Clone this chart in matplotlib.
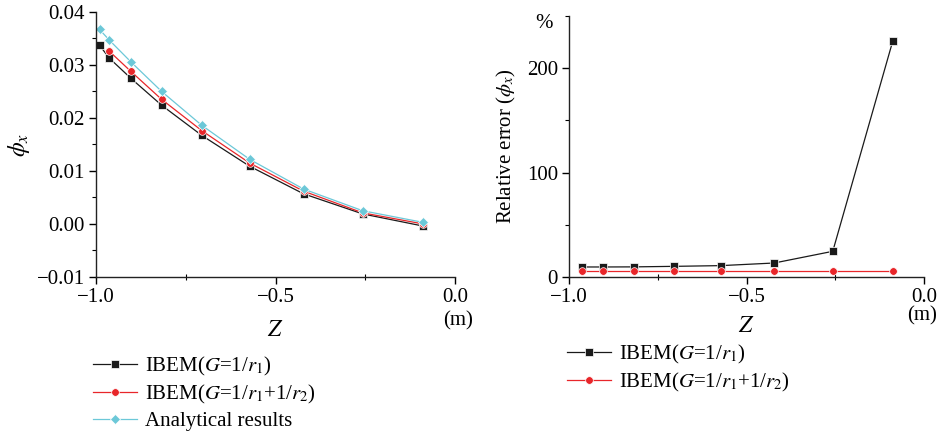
import numpy as np
import matplotlib.pyplot as plt
from matplotlib.ticker import MultipleLocator, FuncFormatter

plt.rcParams['font.family'] = ['Liberation Serif', 'DejaVu Serif']
plt.rcParams['mathtext.fontset'] = 'stix'
plt.rcParams['font.size'] = 15

# depth points Z (m)
z_all = [-0.99, -0.963, -0.903, -0.817, -0.705, -0.572, -0.422, -0.257, -0.088]
z_ibem = z_all[1:]

# phi_x values
phi_g1 = [0.0337, 0.0313, 0.0275, 0.0224, 0.0167, 0.0109, 0.0057, 0.0019, -0.0004]
phi_g2 = [0.0326, 0.0288, 0.0235, 0.0176, 0.0115, 0.0062, 0.0021, 0.0000]
phi_ana = [0.0367, 0.0347, 0.0306, 0.0250, 0.0186, 0.0122, 0.0066, 0.0025, 0.0003]

# relative error (%)
err_g1 = [9.6, 9.6, 9.7, 10.2, 10.9, 13.4, 24.6, 226.0]
err_g2 = [5.4, 5.4, 5.4, 5.4, 5.4, 5.4, 5.4, 5.4]

lab_g1 = r'IBEM($G$=1/$r_1$)'
lab_g2 = r'IBEM($G$=1/$r_1$+1/$r_2$)'
lab_ana = 'Analytical results'

c_black = '#1a1a1a'
c_red = '#e8262a'
c_cyan = '#6cc8d8'

W, H = 943, 441
fig = plt.figure(figsize=(W / 100, H / 100), dpi=100)


def px_axes(x0, x1, y0, y1):
    return fig.add_axes([x0 / W, 1 - y1 / H, (x1 - x0) / W, (y1 - y0) / H])


def style(ax):
    for s in ['top', 'right']:
        ax.spines[s].set_visible(False)
    for s in ['left', 'bottom']:
        ax.spines[s].set_linewidth(1.0)
        ax.spines[s].set_color('#222222')
    ax.tick_params(which='major', direction='out', length=5, width=1.0, pad=3)
    ax.tick_params(which='minor', direction='out', length=3, width=0.8)
    ax.tick_params(axis='x', which='minor', direction='inout', length=5)
    ax.xaxis.set_major_locator(MultipleLocator(0.5))
    ax.xaxis.set_minor_locator(MultipleLocator(0.25))
    ax.xaxis.set_major_formatter(FuncFormatter(lambda v, p: f'{v:.1f}'.replace('-', '\u2212')))
    ax.set_xlim(-1.0, 0.0)


mk = dict(ms=5.5, mec='white', mew=0.5)

# left panel
ax1 = px_axes(96, 455, 12, 277)
style(ax1)
ax1.plot(z_all, phi_g1, color=c_black, lw=0.9, marker='s', label=lab_g1, **mk)
ax1.plot(z_ibem, phi_g2, color=c_red, lw=0.9, marker='o', label=lab_g2, **mk)
ax1.plot(z_all, phi_ana, color=c_cyan, lw=0.9, marker='D', label=lab_ana, **mk)
ax1.set_ylim(-0.01, 0.04)
ax1.yaxis.set_major_locator(MultipleLocator(0.01))
ax1.yaxis.set_minor_locator(MultipleLocator(0.005))
ax1.yaxis.set_major_formatter(FuncFormatter(lambda v, p: f'{v:.2f}'.replace('-', '\u2212')))
ax1.text(-0.215, 0.5, r'$\phi_x$', transform=ax1.transAxes, rotation=90,
         ha='center', va='center', fontsize=17)
ax1.text(0.5, -0.2, r'$Z$', transform=ax1.transAxes, ha='center', va='center', fontsize=17)
ax1.text(1.05, -0.165, '(m)', transform=ax1.transAxes, ha='right', va='center')
ax1.legend(loc='upper left', bbox_to_anchor=(93 / W, 1 - 355 / H),
           bbox_transform=fig.transFigure, frameon=False, borderpad=0,
           borderaxespad=0, handlelength=2.1, handletextpad=0.4,
           labelspacing=0.25, fontsize=15)

# right panel
ax2 = px_axes(569, 924, 16, 277)
style(ax2)
ax2.plot(z_ibem, err_g1, color=c_black, lw=0.9, marker='s', label=lab_g1, **mk)
ax2.plot(z_ibem, err_g2, color=c_red, lw=0.9, marker='o', label=lab_g2, **mk)
ax2.set_ylim(0, 250)
ax2.yaxis.set_major_locator(MultipleLocator(100))
ax2.yaxis.set_minor_locator(MultipleLocator(50))
ax2.text(-0.175, 0.5, r'Relative error ($\phi_x$)', transform=ax2.transAxes,
         rotation=90, ha='center', va='center', fontsize=15)
ax2.text(-0.07, 0.97, '%', transform=ax2.transAxes, ha='center', va='center')
ax2.text(0.5, -0.19, r'$Z$', transform=ax2.transAxes, ha='center', va='center', fontsize=17)
ax2.text(1.038, -0.15, '(m)', transform=ax2.transAxes, ha='right', va='center')
ax2.legend(loc='upper left', bbox_to_anchor=(567 / W, 1 - 343 / H),
           bbox_transform=fig.transFigure, frameon=False, borderpad=0,
           borderaxespad=0, handlelength=2.1, handletextpad=0.4,
           labelspacing=0.25, fontsize=15)

fig.savefig('out.png', dpi=100)
